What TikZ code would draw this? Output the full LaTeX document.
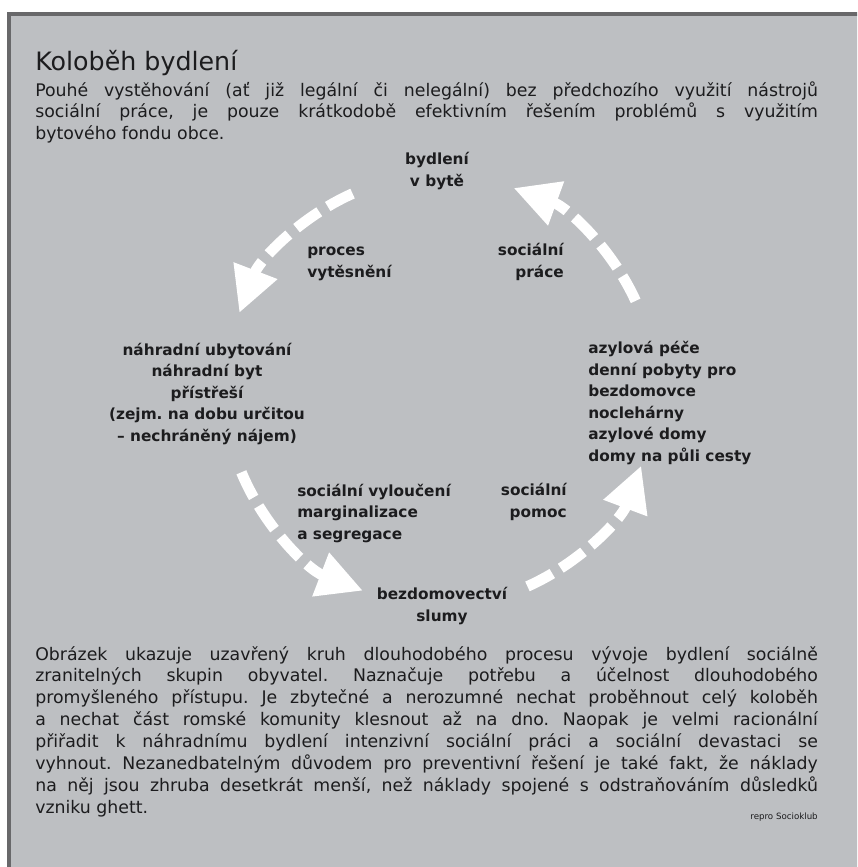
\documentclass[tikz,border=0pt]{standalone}
\usepackage{fontspec}
\setmainfont{DejaVu Sans}
\frenchspacing
\usetikzlibrary{arrows.meta,calc,positioning}
\definecolor{boxgray}{RGB}{189,191,194}
\definecolor{rimgray}{RGB}{104,104,106}
\definecolor{inkgray}{RGB}{28,28,30}
\tikzset{
    cycarrow/.style={draw=white, line width=8pt, dash pattern=on 21pt off 7.5pt,
        -{Triangle[length=34pt,width=33pt,fill=white]}},
    lbl/.style={inner sep=0pt, text=inkgray, font=\bfseries\fontsize{11.5}{16.1}\selectfont},
    para/.style={inner sep=0pt, text=inkgray, text width=587pt, align=justify,
        font=\fontsize{13}{16.4}\selectfont},
}

\begin{document}
\begin{tikzpicture}[x=0.75pt, y=-0.75pt]
    \def \R {215}
    \useasboundingbox (0,0) rectangle (857,867);
    \clip (0,0) rectangle (857,867);
    % frame
    \draw[rimgray, line width=2.5pt, fill=boxgray] (9,14) rectangle (880,890);
    \node[anchor=base west, inner sep=0pt, text=inkgray, font=\fontsize{19}{21}\selectfont] (title) at (35,70) {Koloběh bydlení};
    \node[para, anchor=base west] (intro) at (35,96) {Pouhé vystěhování (ať již legální či nelegální) bez předchozího využití nástrojů\linebreak
        sociální práce, je pouze krátkodobě efektivním řešením problémů s využitím\linebreak
        bytového fondu obce.};
    % cycle
    \coordinate (cyc) at (440,390);
    \foreach \s/\e/\n in {-114/-159/1, -24.5/-70/2, 157.5/111/3, 66/20.6/4}{
    \coordinate (a\n) at ($(cyc)+(\s:\R)$);
    \draw[cycarrow] (a\n) arc[start angle=\s, end angle=\e, radius=\R];}
    \node[lbl, anchor=base, align=center] (flat) at (437,186) {bydlení\\v bytě};
    \node[lbl, anchor=base west, align=left] (evict) at (307,277) {proces\\vytěsnění};
    \node[lbl, anchor=base east, align=right] (work) at (564,277) {sociální\\práce};
    \node[lbl, anchor=base, align=center] (subst) at (207,441) {náhradní ubytování\\náhradní byt\\přístřeší\\(zejm. na dobu určitou\\– nechráněný nájem)};
    \node[lbl, anchor=base west, align=left] (asylum) at (588,461) {azylová péče\\denní pobyty pro\\bezdomovce\\noclehárny\\azylové domy\\domy na půli cesty};
    \node[lbl, anchor=base west, align=left] (exclu) at (297,539) {sociální vyloučení\\marginalizace\\a segregace};
    \node[lbl, anchor=base east, align=right] (help) at (567,517) {sociální\\pomoc};
    \node[lbl, anchor=base, align=center] (homeless) at (442,621) {bezdomovectví\\slumy};
    % closing text
    \node[para, anchor=base west] (outro) at (35,660) {Obrázek ukazuje uzavřený kruh dlouhodobého procesu vývoje bydlení sociálně\linebreak
        zranitelných skupin obyvatel. Naznačuje potřebu a účelnost dlouhodobého\linebreak
        promyšleného přístupu. Je zbytečné a nerozumné nechat proběhnout celý koloběh\linebreak
        a nechat část romské komunity klesnout až na dno. Naopak je velmi racionální\linebreak
        přiřadit k náhradnímu bydlení intenzivní sociální práci a sociální devastaci se\linebreak
        vyhnout. Nezanedbatelným důvodem pro preventivní řešení je také fakt, že náklady\linebreak
        na něj jsou zhruba desetkrát menší, než náklady spojené s odstraňováním důsledků\linebreak
        vzniku ghett.};
    \node[anchor=base east, inner sep=0pt, text=inkgray, font=\fontsize{6.5}{8}\selectfont] (repro) at (818,819) {repro Socioklub};
\end{tikzpicture}
\end{document}
